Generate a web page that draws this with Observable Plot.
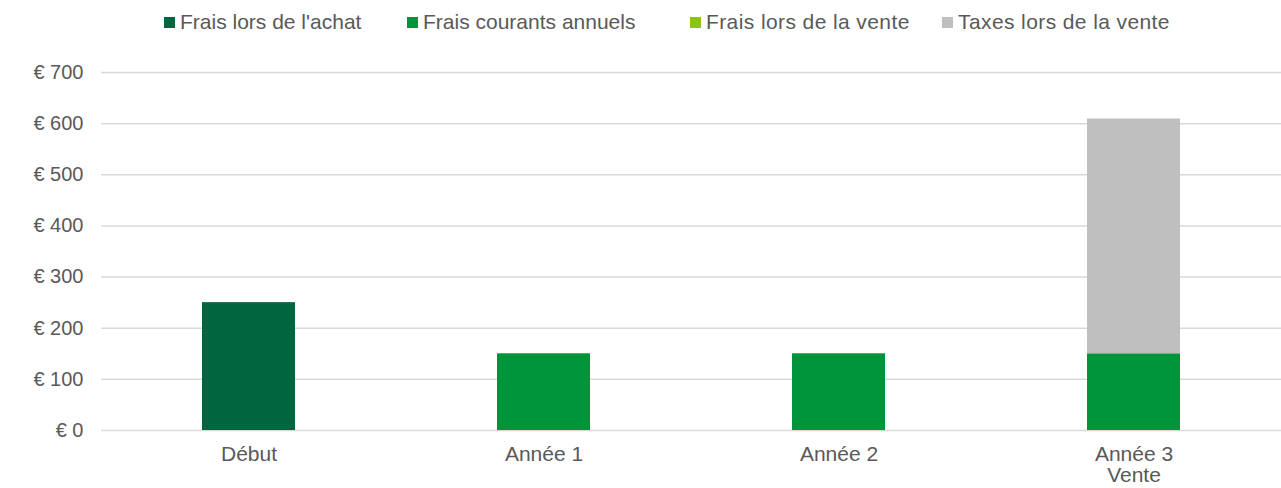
<!DOCTYPE html>
<html>
<head>
<meta charset="utf-8">
<script src="https://cdn.jsdelivr.net/npm/d3@7"></script>
<script src="https://cdn.jsdelivr.net/npm/@observablehq/plot@0.6"></script>
<style>
  html, body { margin: 0; padding: 0; background: #ffffff; }
  body { width: 1281px; height: 488px; overflow: hidden; font-family: "Liberation Sans", Arial, sans-serif; color: #595959; }
  #legend { height: 44px; position: relative; font-size: 21px; }
  #legend .item { position: absolute; top: 0; height: 44px; display: flex; align-items: center; white-space: nowrap; }
  #legend .sw { width: 11px; height: 11px; margin-right: 5px; display: inline-block; }
</style>
</head>
<body>
<div id="legend"></div>
<div id="chart"></div>
<script>
const categories = ["Début", "Année 1", "Année 2", "Année 3"];
const tickLabels = ["Début", "Année 1", "Année 2", "Année 3\nVente"];
const series = ["Frais lors de l'achat", "Frais courants annuels", "Frais lors de la vente", "Taxes lors de la vente"];
const colors = ["#00663F", "#00953A", "#8CC414", "#BFBFBF"];
const fraisAchat = [250, 0, 0, 0];
const fraisCourants = [0, 150, 150, 150];
const fraisVente = [0, 0, 0, 0];
const taxesVente = [0, 0, 0, 459];
const yTicks = [0, 100, 200, 300, 400, 500, 600, 700];
const legendLeft = [164, 407, 690, 942];

const seriesValues = [fraisAchat, fraisCourants, fraisVente, taxesVente];
const data = [];
categories.forEach((c, i) => {
  series.forEach((s, j) => {
    data.push({category: c, series: s, value: seriesValues[j][i]});
  });
});

const legend = document.getElementById("legend");
series.forEach((s, j) => {
  const item = document.createElement("div");
  item.className = "item";
  item.style.left = legendLeft[j] + "px";
  if (j >= 2) item.style.letterSpacing = "0.4px";
  const sw = document.createElement("span");
  sw.className = "sw";
  sw.style.background = colors[j];
  item.appendChild(sw);
  item.appendChild(document.createTextNode(s));
  legend.appendChild(item);
});

const chart = Plot.plot({
  width: 1281,
  height: 444,
  marginTop: 28,
  marginBottom: 58,
  marginLeft: 101,
  marginRight: 0,
  style: {fontFamily: "'Liberation Sans', Arial, sans-serif", fontSize: "20px", color: "#595959", background: "#ffffff"},
  x: {domain: categories, paddingInner: 0.685, paddingOuter: 0.3425, label: null},
  y: {domain: [0, 700], label: null},
  color: {domain: series, range: colors},
  marks: [
    Plot.ruleY(yTicks, {stroke: "#d9d9d9", strokeWidth: 1.5}),
    Plot.barY(data.filter(d => d.value > 0), {x: "category", y: "value", fill: "series", order: series, inset: 0}),
    Plot.axisY({ticks: yTicks, tickSize: 0, tickPadding: 18, tickFormat: d => "€ " + d, fontSize: 20, label: null}),
    Plot.axisX({tickSize: 0, tickPadding: 16, tickFormat: d => tickLabels[categories.indexOf(d)], fontSize: 21, lineHeight: 1.0, label: null})
  ]
});
document.getElementById("chart").appendChild(chart);
</script>
</body>
</html>
